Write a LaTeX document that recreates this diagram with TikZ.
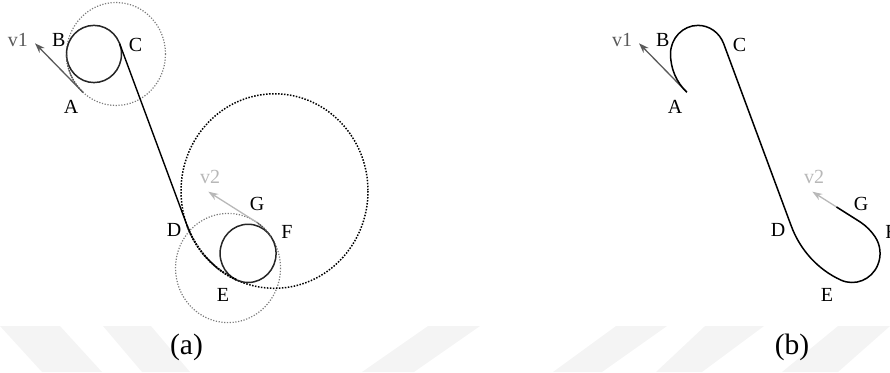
\documentclass[tikz,border=0pt]{standalone}
\usepackage{fontspec}
\setmainfont{Liberation Serif}
\usetikzlibrary{calc,arrows.meta}
\definecolor{vone}{HTML}{5A5A5A}
\definecolor{vtwo}{HTML}{B8B8B8}
\definecolor{dotgray}{HTML}{7C7C7C}
\definecolor{dotdark}{HTML}{505050}
\definecolor{wmark}{HTML}{F4F4F4}
\begin{document}
\begin{tikzpicture}[x=1pt,y=-1.04pt,
  lab/.style={inner sep=0pt,font=\fontsize{20}{21}\selectfont},
  caplab/.style={inner sep=0pt,font=\fontsize{29.5}{30}\selectfont},
  solidc/.style={draw=black!85,line width=1.5pt},
  graydot/.style={draw=dotgray,line width=1.2pt,dash pattern=on 1.2pt off 1.6pt},
  graydark/.style={draw=dotdark,line width=1.4pt,dash pattern=on 1.4pt off 1.1pt},
  bigdot/.style={draw=black,line width=1.5pt,dash pattern=on 1.5pt off 1.5pt},
  bigdark/.style={draw=black,line width=1.9pt,dash pattern=on 1.7pt off 1.1pt},
  pathline/.style={draw=black,line width=1.4pt},
  bpath/.style={draw=black,line width=1.5pt},
  vonearrow/.style={draw=vone,line width=1.3pt,-{Stealth[length=10pt,width=7pt]}},
  vtwoarrow/.style={draw=vtwo,line width=1.3pt,-{Stealth[length=10pt,width=7pt]}},
  wm/.style={fill=wmark,draw=none}]
\useasboundingbox (0,0) rectangle (890,357.69);
% faint watermark bands
\fill[wm] (0,313.5) -- (60,313.5) -- (102,357.7) -- (42,357.7) -- cycle;
\fill[wm] (103,313.5) -- (151,313.5) -- (190,357.7) -- (142,357.7) -- cycle;
\fill[wm] (428,313.5) -- (480,313.5) -- (414,357.7) -- (362,357.7) -- cycle;
\fill[wm] (616,313.5) -- (667,313.5) -- (602,357.7) -- (553,357.7) -- cycle;
\fill[wm] (705,313.5) -- (764,313.5) -- (702,357.7) -- (656,357.7) -- cycle;
\fill[wm] (838,313.5) -- (890,313.5) -- (838,357.7) -- (782,357.7) -- cycle;
% geometry of panel (a)
\coordinate (c1) at (94,51.9);
\coordinate (g1) at (116,51.9);
\coordinate (cb) at (274.5,183.7);
\coordinate (c2) at ($(cb)+(113.8:65.5)$);
\coordinate (g2) at ($(c2)+(144.9:24.5)$);
\coordinate (A) at ($(g1)+(132:49.5)$);
\coordinate (B) at ($(c1)+(180:27.5)$);
\coordinate (C) at ($(c1)+(-21.08:27.5)$);
\coordinate (D) at ($(cb)+(158.92:93.5)$);
\coordinate (E) at ($(cb)+(113.8:93.5)$);
\coordinate (F) at ($(c2)+(-35.1:28)$);
\coordinate (G) at ($(g2)+(-57:52.5)$);
\coordinate (v1tip) at (35,41.6);
\coordinate (v2tip) at (208.3,184.3);
% panel (a)
\draw[graydot] (g1) circle[radius=49.5];
\draw[graydot] (g2) circle[radius=52.5];
\draw[bigdot] (cb) circle[radius=93.5];
\draw[solidc] (c1) circle[radius=27.5];
\draw[solidc] (c2) circle[radius=28];
\draw[graydark] (A) arc[start angle=132,end angle=180,radius=49.5];
\draw[graydark] (F) arc[start angle=-35.1,end angle=-57,radius=52.5];
\draw[bigdark] (D) arc[start angle=158.92,end angle=113.8,radius=93.5];
\draw[pathline] (C) -- (D);
\draw[vonearrow] (A) -- (v1tip);
\draw[vtwoarrow] (G) -- (v2tip);
\node[lab,text=vone] (la-v1) at (18,38.5) {v1};
\node[lab] (la-B) at (58.8,38.5) {B};
\node[lab] (la-C) at (135.5,43.6) {C};
\node[lab] (la-A) at (71,102.9) {A};
\node[lab] (la-D) at (174,221.2) {D};
\node[lab] (la-E) at (223,283.7) {E};
\node[lab] (la-F) at (287,222.6) {F};
\node[lab] (la-G) at (257,196.6) {G};
\node[lab,text=vtwo] (la-v2) at (210,170.2) {v2};
\node[caplab] (cap-a) at (186.5,333.7) {(a)};
% panel (b): same path shifted
\coordinate (bA) at ($(A)+(604,0)$);
\coordinate (bD) at ($(D)+(604,0)$);
\coordinate (bG) at ($(G)+(604,0)$);
\coordinate (bv1tip) at ($(v1tip)+(604,0)$);
\coordinate (bv2tip) at ($(v2tip)+(604,0)$);
\coordinate (bend) at ($(bG)!0.5!(bv2tip)$);
\draw[vonearrow] (bA) -- (bv1tip);
\draw[vtwoarrow] (bG) -- (bv2tip);
\draw[bpath] (bA) arc[start angle=132,end angle=180,radius=49.5]
  arc[start angle=180,end angle=338.92,radius=27.5]
  -- (bD) arc[start angle=158.92,end angle=113.8,radius=93.5]
  arc[start angle=113.8,end angle=-35.1,radius=28]
  arc[start angle=-35.1,end angle=-57,radius=52.5] -- (bend);
\node[lab,text=vone] (lb-v1) at (622,38.5) {v1};
\node[lab] (lb-B) at (662.8,38.5) {B};
\node[lab] (lb-C) at (739.5,43.6) {C};
\node[lab] (lb-A) at (675,102.9) {A};
\node[lab] (lb-D) at (778,221.2) {D};
\node[lab] (lb-E) at (827,283.7) {E};
\node[lab] (lb-F) at (891,222.6) {F};
\node[lab] (lb-G) at (861,196.6) {G};
\node[lab,text=vtwo] (lb-v2) at (814,170.2) {v2};
\node[caplab] (cap-b) at (792,333.7) {(b)};
\end{tikzpicture}
\end{document}
